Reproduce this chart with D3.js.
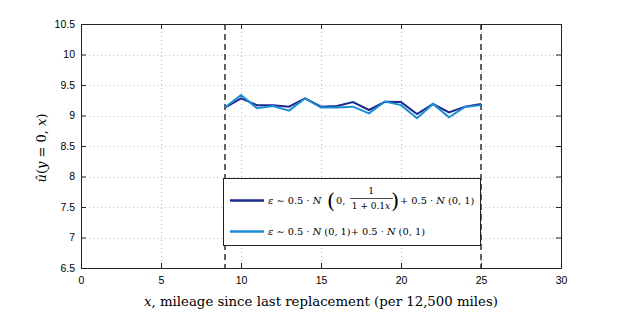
<!DOCTYPE html>
<html lang="en">
<head>
<meta charset="utf-8">
<script src="https://d3js.org/d3.v7.min.js"></script>
<style>
  body { margin: 0; background: #fff; }
  text { fill: #000; }
</style>
</head>
<body>
<div id="chart"></div>
<script>
// readings
var xs = [9, 10, 11, 12, 13, 14, 15, 16, 17, 18, 19, 20, 21, 22, 23, 24, 25];
var mixedVar = [9.13, 9.28, 9.17, 9.17, 9.145, 9.28, 9.145, 9.155, 9.22, 9.09, 9.225, 9.22, 9.025, 9.19, 9.05, 9.145, 9.19];
var mixedStd = [9.13, 9.335, 9.12, 9.155, 9.08, 9.28, 9.13, 9.13, 9.145, 9.035, 9.23, 9.17, 8.955, 9.19, 8.97, 9.14, 9.17];
var xTicks = [0, 5, 10, 15, 20, 25, 30];
var yTicks = [6.5, 7, 7.5, 8, 8.5, 9, 9.5, 10, 10.5];
var bounds = [9, 25];

var W = 620, H = 319;
var pL = 81, pR = 561, pT = 24, pB = 268;

var svg = d3.select('#chart').append('svg')
    .attr('width', W).attr('height', H);

var x = d3.scaleLinear().domain([0, 30]).range([pL, pR]);
var y = d3.scaleLinear().domain([6.5, 10.5]).range([pB, pT]);

// dotted grid
var grid = svg.append('g').attr('stroke', '#bbb').attr('stroke-dasharray', '1,3');
grid.selectAll('.gx').data(xTicks.slice(1, -1)).enter().append('line')
    .attr('x1', d => x(d) + 0.5).attr('x2', d => x(d) + 0.5)
    .attr('y1', pT).attr('y2', pB);
grid.selectAll('.gy').data(yTicks.slice(1, -1)).enter().append('line')
    .attr('y1', d => Math.round(y(d)) + 0.5).attr('y2', d => Math.round(y(d)) + 0.5)
    .attr('x1', pL).attr('x2', pR);

// axes, ticks pointing inward
var plain = d => String(d);
var axB = svg.append('g').attr('transform', 'translate(0,' + pB + ')')
    .call(d3.axisBottom(x).tickValues(xTicks).tickSize(-5).tickPadding(9).tickFormat(plain));
var axT = svg.append('g').attr('transform', 'translate(0,' + pT + ')')
    .call(d3.axisTop(x).tickValues(xTicks).tickSize(-5).tickFormat(''));
var axL = svg.append('g').attr('transform', 'translate(' + pL + ',0)')
    .call(d3.axisLeft(y).tickValues(yTicks).tickSize(-5).tickPadding(6).tickFormat(plain));
var axR = svg.append('g').attr('transform', 'translate(' + pR + ',0)')
    .call(d3.axisRight(y).tickValues(yTicks).tickSize(-5).tickFormat(''));
[axB, axT, axL, axR].forEach(function(a) {
    a.select('.domain').attr('stroke', '#222');
    a.selectAll('.tick line').attr('stroke', '#222');
    a.selectAll('text').attr('font-family', 'Liberation Sans, Arial, sans-serif')
        .attr('font-size', 10.5);
});

// replacement window
svg.selectAll('.bound').data(bounds).enter().append('line')
    .attr('x1', d => x(d)).attr('x2', d => x(d))
    .attr('y1', pT).attr('y2', pB)
    .attr('stroke', '#222').attr('stroke-width', 1.4)
    .attr('stroke-dasharray', '6,4');

var line = d3.line().x((d, i) => x(xs[i])).y(d => y(d));
svg.append('path').datum(mixedVar).attr('d', line)
    .attr('fill', 'none').attr('stroke', '#1c2a8e').attr('stroke-width', 2);
svg.append('path').datum(mixedStd).attr('d', line)
    .attr('fill', 'none').attr('stroke', '#1a8ed6').attr('stroke-width', 2);

// legend
var serif = 'DejaVu Serif, serif';
var lg = svg.append('g');
lg.append('rect').attr('x', 223.5).attr('y', 178.5).attr('width', 257).attr('height', 67)
    .attr('fill', '#fff').attr('stroke', '#222');
lg.append('line').attr('x1', 230).attr('x2', 264).attr('y1', 200.5).attr('y2', 200.5)
    .attr('stroke', '#1c2a8e').attr('stroke-width', 2.5);
lg.append('line').attr('x1', 230).attr('x2', 264).attr('y1', 231.5).attr('y2', 231.5)
    .attr('stroke', '#1a8ed6').attr('stroke-width', 2.5);

var t1 = lg.append('text').attr('x', 268).attr('y', 204)
    .attr('font-family', serif).attr('font-size', 9.8);
t1.append('tspan').attr('font-style', 'italic').text('ε');
t1.append('tspan').text(' ∼ 0.5 · ');
t1.append('tspan').attr('font-style', 'italic').text('N');
lg.append('text').attr('x', 327).attr('y', 208).attr('font-family', serif)
    .attr('font-size', 21).attr('font-weight', 200).text('(');
lg.append('text').attr('x', 336).attr('y', 204).attr('font-family', serif)
    .attr('font-size', 9.8).text('0,');
lg.append('text').attr('x', 371).attr('y', 194).attr('text-anchor', 'middle')
    .attr('font-family', serif).attr('font-size', 9).text('1');
lg.append('line').attr('x1', 350).attr('x2', 393).attr('y1', 198.5).attr('y2', 198.5)
    .attr('stroke', '#000').attr('stroke-width', 0.7);
var den = lg.append('text').attr('x', 371).attr('y', 209).attr('text-anchor', 'middle')
    .attr('font-family', serif).attr('font-size', 9);
den.append('tspan').text('1 + 0.1');
den.append('tspan').attr('font-style', 'italic').text('x');
lg.append('text').attr('x', 391).attr('y', 208).attr('font-family', serif)
    .attr('font-size', 21).attr('font-weight', 200).text(')');
var t1b = lg.append('text').attr('x', 400).attr('y', 204)
    .attr('font-family', serif).attr('font-size', 9.8);
t1b.append('tspan').text('+ 0.5 · ');
t1b.append('tspan').attr('font-style', 'italic').text('N');
t1b.append('tspan').text(' (0, 1)');

var t2 = lg.append('text').attr('x', 268).attr('y', 235)
    .attr('font-family', serif).attr('font-size', 9.8);
t2.append('tspan').attr('font-style', 'italic').text('ε');
t2.append('tspan').text(' ∼ 0.5 · ');
t2.append('tspan').attr('font-style', 'italic').text('N');
t2.append('tspan').text(' (0, 1)+ 0.5 · ');
t2.append('tspan').attr('font-style', 'italic').text('N');
t2.append('tspan').text(' (0, 1)');

// axis titles
var xl = svg.append('text').attr('x', 321).attr('y', 306).attr('text-anchor', 'middle')
    .attr('font-family', serif).attr('font-size', 13.3);
xl.append('tspan').attr('font-style', 'italic').text('x');
xl.append('tspan').text(', mileage since last replacement (per 12,500 miles)');

var yl = svg.append('text').attr('transform', 'translate(46,148) rotate(-90)')
    .attr('text-anchor', 'middle').attr('font-family', serif).attr('font-size', 13);
yl.append('tspan').attr('font-style', 'italic').text('û');
yl.append('tspan').text('(');
yl.append('tspan').attr('font-style', 'italic').text('y');
yl.append('tspan').text(' = 0, ');
yl.append('tspan').attr('font-style', 'italic').text('x');
yl.append('tspan').text(')');
</script>
</body>
</html>
